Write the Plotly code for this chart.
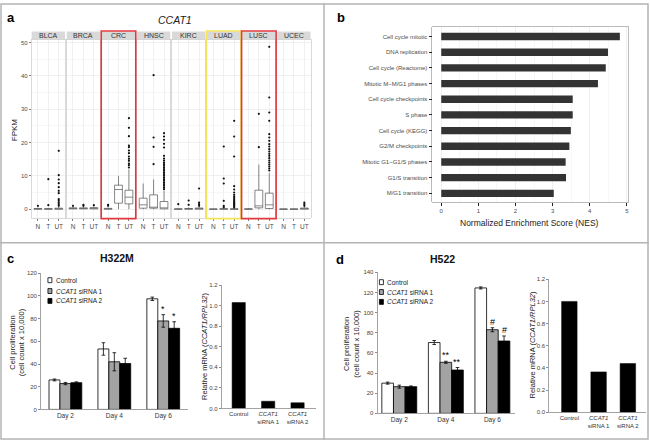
import plotly.graph_objects as go

W, H = 650, 443
def px(x): return x / W
def py(y): return 1 - y / H

FONT = "Liberation Sans, Arial, sans-serif"

# ---------------- panel a data ----------------
cancers = ["BLCA", "BRCA", "CRC", "HNSC", "KIRC", "LUAD", "LUSC", "UCEC"]
groups = ["N", "T", "UT"]
box_q1 = [[0, 0, 0], [0.1, 0.1, 0.1], [0, 1.8, 1.6], [0.3, 0.3, 0.1],
          [0, 0, 0], [0, 0, 0], [0, 0.4, 0.2], [0, 0, 0]]
box_med = [[0.05, 0.05, 0.1], [0.25, 0.25, 0.3], [0.1, 5.9, 3.6], [1.3, 0.6, 0.3],
           [0.02, 0.08, 0.15], [0.01, 0.05, 0.03], [0.02, 1.0, 1.3], [0.01, 0.02, 0.15]]
box_q3 = [[0.2, 0.15, 0.3], [0.4, 0.4, 0.45], [0.25, 7.2, 5.7], [3.3, 4.3, 2.3],
          [0.1, 0.2, 0.35], [0.05, 0.15, 0.1], [0.1, 5.7, 4.8], [0.05, 0.05, 0.35]]
box_lo = [[0, 0, 0], [0, 0, 0], [0, 0, 0], [0, 0, 0],
          [0, 0, 0], [0, 0, 0], [0, 0, 0], [0, 0, 0]]
box_hi = [[0.5, 0.4, 0.7], [0.8, 0.8, 0.9], [0.5, 10.0, 11.9], [7.7, 8.9, 5.5],
          [0.3, 0.5, 0.8], [0.1, 0.4, 0.3], [0.3, 13.4, 10.9], [0.1, 0.1, 0.8]]
out_N = [[1.0], [1.0], [1.0, 1.3], [], [1.5], [], [], []]
out_T = [[1.2, 9.0], [1.0, 1.3], [], [13.5, 18.7, 21.5, 40.2], [1.3, 2.6],
         [0.6, 1.0, 2.5, 7.7, 9.2, 18.8], [18.6, 28.6], []]
out_UT = [[1.0, 1.5, 2.0, 2.5, 3.0, 4.8, 5.5, 6.6, 7.8, 8.9, 10.2, 17.5],
          [1.2],
          [12.5, 13.2, 13.7, 14.5, 15.1, 15.8, 16.8, 17.6, 18.6, 19.1, 21.9, 24.4, 27.3],
          [6.0, 6.5, 7.0, 7.5, 8.0, 8.5, 9.0, 9.5, 10.0, 10.5, 11.0, 11.5, 12.0, 12.5,
           13.0, 13.5, 14.0, 14.6, 15.2, 16.0, 18.5, 19.6, 20.8, 21.8, 22.8],
          [1.0, 1.5, 2.0, 6.2],
          [0.5, 0.8, 1.0, 1.3, 1.5, 1.8, 2.0, 2.3, 2.6, 3.0, 3.4, 3.8, 4.3, 5.0, 5.9,
           6.9, 15.8, 21.8, 26.5],
          [11.6, 12.2, 12.8, 13.4, 14.0, 14.6, 15.3, 16.0, 16.6, 17.3, 18.0, 18.8,
           19.5, 20.5, 21.5, 22.5, 26.5, 29.0, 33.5, 48.7],
          [1.0, 1.5, 2.0]]
fpkm_ticks = [0, 10, 20, 30, 40, 50]
highlight = {"CRC": "#e2383d", "LUAD": "#f3e45a", "LUSC": "#e2383d"}

# ---------------- panel b data ----------------
pathways = ["Cell cycle mitotic", "DNA replication", "Cell cycle (Reactome)",
            "Mitotic M\u2212M/G1 phases", "Cell cycle checkpoints", "S phase",
            "Cell cycle (KEGG)", "G2/M checkpoints", "Mitotic G1\u2212G1/S phases",
            "G1/S transition", "M/G1 transition"]
nes = [4.81, 4.49, 4.43, 4.22, 3.54, 3.54, 3.49, 3.45, 3.35, 3.36, 3.03]

# ---------------- panel c / d data ----------------
days = ["Day 2", "Day 4", "Day 6"]
series_names = ["Control", "<i>CCAT1</i> siRNA 1", "<i>CCAT1</i> siRNA 2"]
series_colors = ["#ffffff", "#a3a3a3", "#000000"]

h322m_vals = [[26.0, 53.3, 97.5], [22.8, 42.0, 78.0], [23.6, 40.5, 71.5]]
h322m_err = [[0.8, 5.5, 1.5], [1.0, 8.0, 5.5], [0.7, 4.6, 5.8]]
h322m_sig = [["", "", ""], ["", "", "*"], ["", "", "*"]]

h522_vals = [[30.0, 70.3, 124.5], [26.5, 50.7, 83.0], [26.5, 43.0, 71.8]]
h522_err = [[1.0, 2.0, 1.0], [1.5, 1.0, 2.0], [0.7, 2.5, 5.0]]
h522_sig = [["", "", ""], ["", "**", "#"], ["", "**", "#"]]

mrna_labels = ["Control", "<i>CCAT1</i><br>siRNA 1", "<i>CCAT1</i><br>siRNA 2"]
h322m_mrna = [1.03, 0.07, 0.055]
h522_mrna = [1.0, 0.365, 0.44]

# =================================================================
fig = go.Figure()
layout = dict(width=W, height=H, margin=dict(l=0, r=0, t=0, b=0),
              paper_bgcolor="white", plot_bgcolor="white", showlegend=False,
              font=dict(family=FONT, color="#222"))
annotations = []
shapes = []

def ann(x, y, text, size, **kw):
    d = dict(x=px(x), y=py(y), xref="paper", yref="paper", text=text, showarrow=False,
             xanchor="center", yanchor="middle", borderpad=0,
             font=dict(size=size, family=FONT, color=kw.pop("color", "#222")))
    d.update(kw)
    annotations.append(d)

# ---------------- panel a ----------------
fx0, fw, fstep = 31.7, 33.4, 35.14
ptop, pbot, stop_ = 37, 218, 29
for k, c in enumerate(cancers):
    n = k + 1
    x0 = fx0 + k * fstep
    x1 = x0 + fw
    xa, ya = f"x{n}", f"y{n}"
    layout[f"xaxis{n}"] = dict(
        domain=[px(x0), px(x1)], anchor=ya, type="category",
        categoryorder="array", categoryarray=groups, range=[-0.6, 2.6],
        tickfont=dict(size=6.5, color="#4d4d4d"), ticks="outside", ticklen=2,
        tickcolor="#7f7f7f", showgrid=True, gridcolor="#ececec", gridwidth=0.8,
        showline=True, mirror=True, linecolor="#cfcfcf", linewidth=0.8, zeroline=False)
    layout[f"yaxis{n}"] = dict(
        domain=[py(pbot), py(ptop)], anchor=xa, range=[-2.66, 50.9],
        tickvals=fpkm_ticks, showticklabels=(k == 0),
        ticks="outside" if k == 0 else "", ticklen=2, tickcolor="#7f7f7f",
        tickfont=dict(size=6, color="#4d4d4d"),
        showgrid=True, gridcolor="#ececec", gridwidth=0.8,
        minor=dict(tickvals=[5, 15, 25, 35, 45], showgrid=True, gridcolor="#f5f5f5",
                   ticks=""),
        showline=True, mirror=True, linecolor="#cfcfcf", linewidth=0.8, zeroline=False)
    fig.add_trace(go.Box(
        x=groups, q1=box_q1[k], median=box_med[k], q3=box_q3[k],
        lowerfence=box_lo[k], upperfence=box_hi[k], xaxis=xa, yaxis=ya,
        fillcolor="white", line=dict(color="#555555", width=0.7), whiskerwidth=0,
        width=0.75, boxpoints=False, showlegend=False, hoverinfo="skip"))
    ox = ["N"] * len(out_N[k]) + ["T"] * len(out_T[k]) + ["UT"] * len(out_UT[k])
    oy = out_N[k] + out_T[k] + out_UT[k]
    fig.add_trace(go.Scatter(x=ox, y=oy, mode="markers", xaxis=xa, yaxis=ya,
                             marker=dict(size=2.2, color="#111"), showlegend=False,
                             hoverinfo="skip"))
    # strip
    shapes.append(dict(type="rect", xref="paper", yref="paper", x0=px(x0), x1=px(x1),
                       y0=py(ptop), y1=py(stop_), fillcolor="#d9d9d9", line=dict(width=0),
                       layer="below"))
    ann((x0 + x1) / 2, (ptop + stop_) / 2, c, 7, color="#333")
    if c in highlight:
        shapes.append(dict(type="rect", xref="paper", yref="paper", x0=px(x0 - 0.6),
                           x1=px(x1 + 0.6), y0=py(pbot + 0.6), y1=py(stop_ - 0.6),
                           line=dict(color=highlight[c], width=1.6)))

ann(175, 17, "<i>CCAT1</i>", 10.5)
ann(14, 128, "FPKM", 8, textangle=-90)
ann(11, 15, "<b>a</b>", 13, color="#000")

# ---------------- panel b ----------------
layout["xaxis9"] = dict(domain=[px(433), px(629)], anchor="y9", range=[-0.24, 5.03],
                        tickvals=[0, 1, 2, 3, 4, 5], tickfont=dict(size=6, color="#4d4d4d"),
                        ticks="outside", ticklen=3, tickcolor="#222", showgrid=True,
                        gridcolor="#ececec", gridwidth=0.8,
                        minor=dict(tickvals=[0.5, 1.5, 2.5, 3.5, 4.5], showgrid=True,
                                   gridcolor="#f5f5f5", ticks=""),
                        showline=True, mirror=True, linecolor="#aaaaaa", linewidth=0.8,
                        zeroline=False)
layout["yaxis9"] = dict(domain=[py(202), py(24)], anchor="x9", type="category",
                        categoryorder="array", categoryarray=pathways,
                        range=[10.57, -0.63], tickfont=dict(size=6, color="#4d4d4d"),
                        ticks="outside", ticklen=3, tickcolor="#222", showgrid=False,
                        showline=True, mirror=True, linecolor="#aaaaaa", linewidth=0.8)
fig.add_trace(go.Bar(x=nes, y=pathways, orientation="h", xaxis="x9", yaxis="y9",
                     marker=dict(color="#333333", line=dict(width=0)), width=0.47,
                     showlegend=False, hoverinfo="skip"))
ann(530, 223, "Normalized Enrichment Score (NES)", 8.5)
ann(342, 15, "<b>b</b>", 13, color="#000")

# ---------------- panels c and d ----------------
def growth_panel(n, xdom, xrange, ydom, yrange, vals, errs, sig, group_w):
    bw = group_w / 3
    layout[f"xaxis{n}"] = dict(domain=[px(xdom[0]), px(xdom[1])], anchor=f"y{n}",
                               type="category", categoryorder="array",
                               categoryarray=days, range=xrange,
                               tickfont=dict(size=6.5, color="#333"), ticks="",
                               showline=True, linecolor="#8c8c8c", linewidth=0.8,
                               showgrid=False, zeroline=False)
    layout[f"yaxis{n}"] = dict(domain=[py(ydom[1]), py(ydom[0])], anchor=f"x{n}",
                               range=yrange, dtick=20, tick0=0,
                               tickfont=dict(size=6, color="#444"), ticks="outside",
                               ticklen=2, tickcolor="#8c8c8c", showline=True,
                               linecolor="#8c8c8c", linewidth=0.8, showgrid=False,
                               zeroline=False)
    for i in range(3):
        off = -group_w / 2 + i * bw
        fig.add_trace(go.Bar(
            x=days, y=vals[i], xaxis=f"x{n}", yaxis=f"y{n}", width=bw, offset=off,
            marker=dict(color=series_colors[i], line=dict(color="#000", width=0.8)),
            error_y=dict(type="data", array=errs[i], color="#000", thickness=0.8, width=1.8),
            showlegend=False, hoverinfo="skip"))
        for j in range(3):
            if sig[i][j]:
                annotations.append(dict(
                    x=j + off + bw / 2, y=vals[i][j] + errs[i][j], xref=f"x{n}",
                    yref=f"y{n}", text=sig[i][j], showarrow=False, yanchor="bottom",
                    xanchor="center", borderpad=0,
                    font=dict(size=9, family=FONT, color="#000")))

def mrna_panel(n, xdom, xrange, ydom, vals, bw):
    layout[f"xaxis{n}"] = dict(domain=[px(xdom[0]), px(xdom[1])], anchor=f"y{n}",
                               type="category", categoryorder="array",
                               categoryarray=mrna_labels, range=xrange,
                               tickfont=dict(size=6, color="#333"), ticks="",
                               showline=True, linecolor="#8c8c8c", linewidth=0.8,
                               showgrid=False, zeroline=False)
    layout[f"yaxis{n}"] = dict(domain=[py(ydom[1]), py(ydom[0])], anchor=f"x{n}",
                               range=[0, 1.2], dtick=0.2, tick0=0, tickformat=".1f",
                               tickfont=dict(size=6, color="#444"), ticks="outside",
                               ticklen=2, tickcolor="#8c8c8c", showline=True,
                               linecolor="#8c8c8c", linewidth=0.8, showgrid=False,
                               zeroline=False)
    fig.add_trace(go.Bar(x=mrna_labels, y=vals, xaxis=f"x{n}", yaxis=f"y{n}", width=bw,
                         marker=dict(color="#000", line=dict(color="#000", width=0.5)),
                         showlegend=False, hoverinfo="skip"))

def legend_block(x, ys):
    for i in range(3):
        shapes.append(dict(type="rect", xref="paper", yref="paper",
                           x0=px(x - 2), x1=px(x + 2), y0=py(ys[i] + 2.5), y1=py(ys[i] - 2.5),
                           fillcolor=series_colors[i], line=dict(color="#000", width=0.8)))
        ann(x + 5, ys[i], series_names[i], 6.5, xanchor="left")

# c
growth_panel(10, (41, 188), [-0.5, 2.5], (274, 412), [0, 120],
             h322m_vals, h322m_err, h322m_sig, 0.67)
mrna_panel(11, (222, 316), [-0.58, 2.61], (286, 411), h322m_mrna, 0.45)
legend_block(50, [281, 292, 302])
ann(117, 259, "<b>H322M</b>", 10.5, color="#111")
ann(11, 259, "<b>c</b>", 13, color="#000")
ann(17, 344, "Cell proliferation<br>(cell count x 10,000)", 7.5, textangle=-90)
ann(205, 348, "Relative mRNA (<i>CCAT1/RPL32</i>)", 7.5, textangle=-90)

# d
growth_panel(12, (378, 516), [-0.47, 2.49], (273, 416), [0, 140],
             h522_vals, h522_err, h522_sig, 0.75)
mrna_panel(13, (550, 647), [-0.69, 2.62], (280, 415), h522_mrna, 0.53)
legend_block(382, [283, 293, 303])
ann(443, 260, "<b>H522</b>", 10.5, color="#111")
ann(341, 260, "<b>d</b>", 13, color="#000")
ann(352, 345, "Cell proliferation<br>(cell count x 10,000)", 7.5, textangle=-90)
ann(533, 347, "Relative mRNA (<i>CCAT1/RPL32</i>)", 7.5, textangle=-90)

# ---------------- frame ----------------
shapes.append(dict(type="rect", xref="paper", yref="paper", x0=px(1), x1=px(649),
                   y0=py(442), y1=py(1), line=dict(color="#b4b4b4", width=1.5)))
shapes.append(dict(type="line", xref="paper", yref="paper", x0=px(324.5), x1=px(324.5),
                   y0=0, y1=1, line=dict(color="#b4b4b4", width=1.5)))
shapes.append(dict(type="line", xref="paper", yref="paper", x0=0, x1=1,
                   y0=py(243), y1=py(243), line=dict(color="#b4b4b4", width=1.5)))

layout["annotations"] = annotations
layout["shapes"] = shapes
layout["barmode"] = "group"
fig.update_layout(**layout)
fig.write_html("out.html",
               config={"displayModeBar": False, "staticPlot": True},
               post_script="document.body.style.margin='0';"
                           "document.documentElement.style.overflow='hidden';"
                           "document.body.style.overflow='hidden';")
